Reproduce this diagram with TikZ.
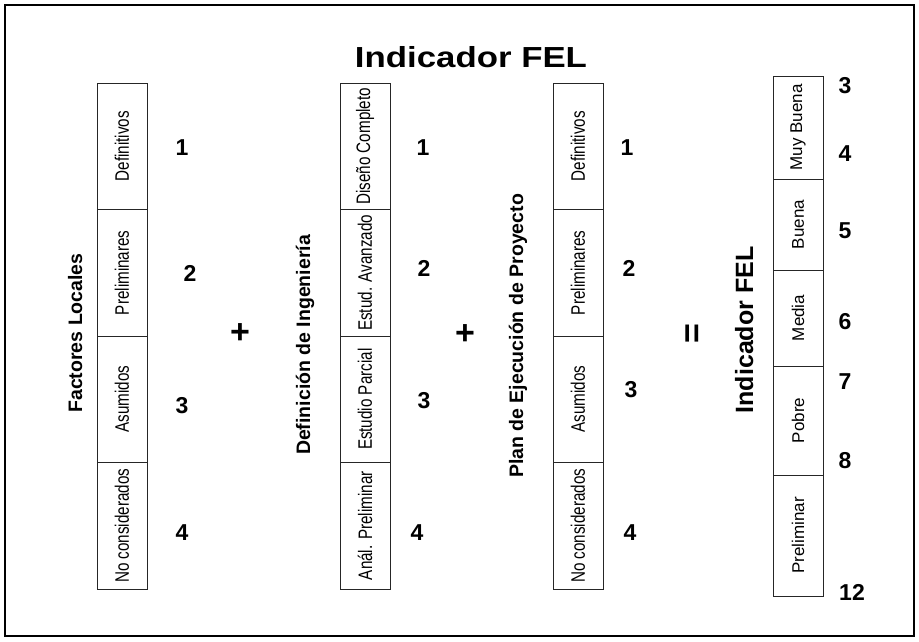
\documentclass[tikz,border=0pt]{standalone}
\usepackage{fontspec}
\setmainfont{Liberation Sans}
\newfontfamily\narrowfont[FakeStretch=0.78]{Liberation Sans}
\newfontfamily\widefont[FakeStretch=1.2]{Liberation Sans}
\tikzset{
	cell/.style={rotate=90, inner sep=0pt, font=\narrowfont\fontsize{19.5}{19.5}\selectfont},
	cellfel/.style={rotate=90, inner sep=0pt, font=\fontsize{17}{17}\selectfont},
	group/.style={rotate=90, anchor=base, inner sep=0pt, font=\bfseries\fontsize{19.5}{20}\selectfont},
	score/.style={inner sep=0pt, font=\bfseries\fontsize{23}{23}\selectfont},
	oper/.style={inner sep=0pt, font=\bfseries\fontsize{34}{34}\selectfont},
	bar/.style={draw=black!85, line width=1pt}
}

\begin{document}
\begin{tikzpicture}[x=1pt, y=-1pt]
		\useasboundingbox (0,0) rectangle (919,641);
		\draw[line width=2pt] (5,5) rectangle (914,636);

		\node[anchor=base, inner sep=0pt, font=\widefont\bfseries\fontsize{29}{29}\selectfont] (title) at (471,67) {Indicador FEL};

		% tres columnas de 4 niveles
		\foreach \x in {97,340,553}{
			\draw[bar] (\x,83) rectangle ++(50,506);
			\foreach \y in {209.5,336,462.5}
				\draw[bar] (\x,\y) -- ++(50,0);
		}

		% columna del indicador
		\draw[bar] (773,76) rectangle (823,596);
		\foreach \y in {179,270,366,475}
			\draw[bar] (773,\y) -- ++(50,0);

		% Factores Locales
		\node[group] (fl) at (82,333) {Factores Locales};
		\node[cell] (fl1) at (122,146.25) {Definitivos};
		\node[cell] (fl2) at (122,272.75) {Preliminares};
		\node[cell] (fl3) at (122,399.25) {Asumidos};
		\node[cell] (fl4) at (122,525.75) {No considerados};
		\node[score] (fln1) at (182,148) {1};
		\node[score] (fln2) at (190,273) {2};
		\node[score] (fln3) at (182,406) {3};
		\node[score] (fln4) at (182,533) {4};

		\node[oper] (plus1) at (240,334) {+};

		% Definicion de Ingenieria
		\node[group] (di) at (310,345) {Definición de Ingeniería};
		\node[cell] (di1) at (365,146.25) {Diseño Completo};
		\node[cell] (di2) at (365,272.75) {Estud. Avanzado};
		\node[cell] (di3) at (365,399.25) {Estudio Parcial};
		\node[cell] (di4) at (365,525.75) {Anál. Preliminar};
		\node[score] (din1) at (423,148) {1};
		\node[score] (din2) at (424,268) {2};
		\node[score] (din3) at (424,401) {3};
		\node[score] (din4) at (417,533) {4};

		\node[oper] (plus2) at (465,335) {+};

		% Plan de Ejecucion de Proyecto
		\node[group] (pe) at (523,336) {Plan de Ejecución de Proyecto};
		\node[cell] (pe1) at (578,146.25) {Definitivos};
		\node[cell] (pe2) at (578,272.75) {Preliminares};
		\node[cell] (pe3) at (578,399.25) {Asumidos};
		\node[cell] (pe4) at (578,525.75) {No considerados};
		\node[score] (pen1) at (627,148) {1};
		\node[score] (pen2) at (629,268) {2};
		\node[score] (pen3) at (631,390) {3};
		\node[score] (pen4) at (630,533) {4};

		\node[oper, rotate=90] (equal) at (695,334) {=};

		% Indicador FEL
		\node[group, font=\bfseries\fontsize{25}{25}\selectfont] (fel) at (753,330) {Indicador FEL};
		\node[cellfel] (fel1) at (798,127.5) {Muy Buena};
		\node[cellfel] (fel2) at (798,224.5) {Buena};
		\node[cellfel] (fel3) at (798,318) {Media};
		\node[cellfel] (fel4) at (798,420.5) {Pobre};
		\node[cellfel] (fel5) at (798,535.5) {Preliminar};
		\node[score] (feln3) at (845,86) {3};
		\node[score] (feln4) at (845,154) {4};
		\node[score] (feln5) at (845,231) {5};
		\node[score] (feln6) at (845,322) {6};
		\node[score] (feln7) at (845,382) {7};
		\node[score] (feln8) at (845,461) {8};
		\node[score] (feln12) at (852,592) {12};

	\end{tikzpicture}
\end{document}
